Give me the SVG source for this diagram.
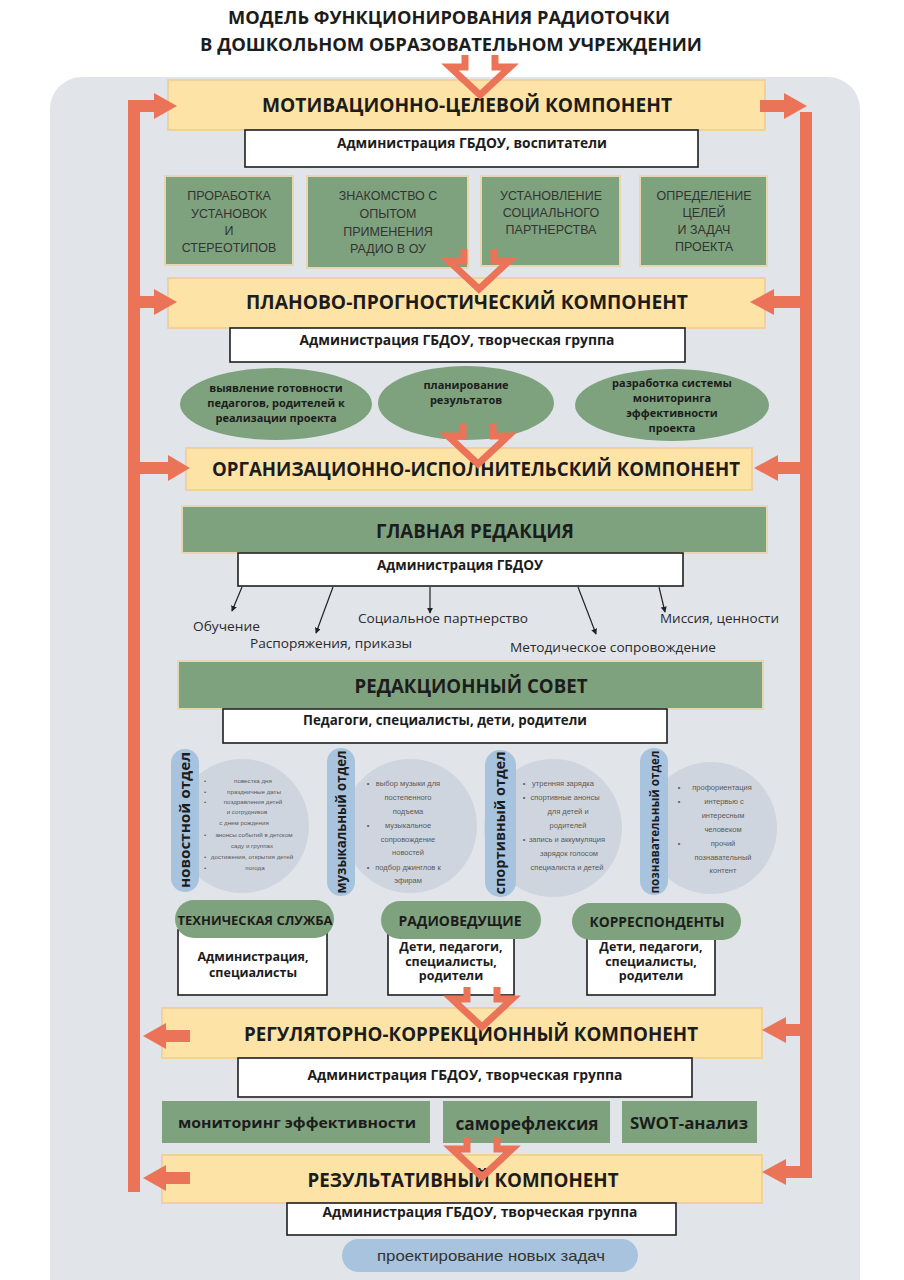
<svg xmlns="http://www.w3.org/2000/svg" width="904" height="1280" viewBox="0 0 904 1280">
<style>
.hd{font-family:'Open Sans','Noto Sans',sans-serif;font-weight:700;fill:#1c1c1c;text-anchor:middle}
.rg{font-family:'Open Sans','Noto Sans',sans-serif;font-weight:400;fill:#2a2a2a}
.ar{font-family:'Liberation Sans',Arial,sans-serif;fill:#333;text-anchor:middle}
.bl{font-family:'Liberation Sans',Arial,sans-serif;fill:#5a5a5a;text-anchor:middle}
.yel{fill:#fde3a6;stroke:#f1d09b;stroke-width:2}
.wht{fill:#fff;stroke:#1e1e1e;stroke-width:1.6}
.grn{fill:#7fa27e;stroke:#e6d6b2;stroke-width:2}
.grnp{fill:#7fa27e}
.pill{fill:#a8c3de}
.circ{fill:#cfd5de}
.or{fill:#eb7358}
.merge{fill:none;stroke:#eb7358;stroke-width:7;stroke-linejoin:miter}
.thin{stroke:#222;stroke-width:1.2;fill:none;marker-end:url(#ah)}
</style>
<defs>
<marker id="ah" viewBox="0 0 8 8" refX="7" refY="4" markerWidth="5" markerHeight="5" orient="auto">
<path d="M0,0 L8,4 L0,8 Z" fill="#222"/>
</marker>
<path id="mg" d="M-15,0 V12 H-30 L0,40 L30,12 H15 V0"/>
</defs>

<rect x="0" y="0" width="904" height="1280" fill="#ffffff"/>
<rect x="50" y="77" width="810" height="1240" rx="32" fill="#e1e5ea"/>

<g id="title">
<text class="hd" x="449" y="24" font-size="18" textLength="442" lengthAdjust="spacingAndGlyphs">МОДЕЛЬ ФУНКЦИОНИРОВАНИЯ РАДИОТОЧКИ</text>
<text class="hd" x="451" y="51" font-size="18" textLength="502" lengthAdjust="spacingAndGlyphs">В ДОШКОЛЬНОМ ОБРАЗОВАТЕЛЬНОМ УЧРЕЖДЕНИИ</text>
</g>

<g id="motivational">
<rect class="yel" x="168" y="80" width="597" height="50"/>
<text class="hd" x="467" y="112" font-size="19" textLength="410" lengthAdjust="spacingAndGlyphs">МОТИВАЦИОННО-ЦЕЛЕВОЙ КОМПОНЕНТ</text>
<rect class="wht" x="245" y="130" width="453" height="37"/>
<text class="hd" x="472" y="148" font-size="13.5" textLength="270" lengthAdjust="spacingAndGlyphs">Администрация ГБДОУ, воспитатели</text>
</g>

<g id="m1">
<rect class="grn" x="165" y="176" width="128" height="89"/>
<text class="ar" font-size="12.5"><tspan x="229" y="200">ПРОРАБОТКА</tspan><tspan x="229" y="218">УСТАНОВОК</tspan><tspan x="229" y="235">И</tspan><tspan x="229" y="252">СТЕРЕОТИПОВ</tspan></text>
</g>
<g id="m2">
<rect class="grn" x="307" y="176" width="161" height="92"/>
<text class="ar" font-size="12.5"><tspan x="388" y="200">ЗНАКОМСТВО С</tspan><tspan x="388" y="218">ОПЫТОМ</tspan><tspan x="388" y="236">ПРИМЕНЕНИЯ</tspan><tspan x="388" y="253">РАДИО В ОУ</tspan></text>
</g>
<g id="m3">
<rect class="grn" x="481" y="176" width="139" height="90"/>
<text class="ar" font-size="12.5"><tspan x="551" y="200">УСТАНОВЛЕНИЕ</tspan><tspan x="551" y="217">СОЦИАЛЬНОГО</tspan><tspan x="551" y="234">ПАРТНЕРСТВА</tspan></text>
</g>
<g id="m4">
<rect class="grn" x="640" y="176" width="127" height="90"/>
<text class="ar" font-size="12.5"><tspan x="704" y="200">ОПРЕДЕЛЕНИЕ</tspan><tspan x="704" y="217">ЦЕЛЕЙ</tspan><tspan x="704" y="234">И ЗАДАЧ</tspan><tspan x="704" y="251">ПРОЕКТА</tspan></text>
</g>

<g id="planning">
<rect class="yel" x="168" y="278" width="597" height="50"/>
<text class="hd" x="467" y="309" font-size="19" textLength="442" lengthAdjust="spacingAndGlyphs">ПЛАНОВО-ПРОГНОСТИЧЕСКИЙ КОМПОНЕНТ</text>
<rect class="wht" x="230" y="328" width="455" height="34"/>
<text class="hd" x="457" y="345" font-size="13.5" textLength="315" lengthAdjust="spacingAndGlyphs">Администрация ГБДОУ, творческая группа</text>
</g>

<g id="p1">
<ellipse class="grnp" cx="276" cy="404" rx="96" ry="36"/>
<text class="hd" font-size="11"><tspan x="276" y="392">выявление готовности</tspan><tspan x="276" y="407">педагогов, родителей к</tspan><tspan x="276" y="422">реализации проекта</tspan></text>
</g>
<g id="p2">
<ellipse class="grnp" cx="466" cy="403" rx="88" ry="37"/>
<text class="hd" font-size="11"><tspan x="466" y="389">планирование</tspan><tspan x="466" y="404">результатов</tspan></text>
</g>
<g id="p3">
<ellipse class="grnp" cx="672" cy="405" rx="97" ry="36"/>
<text class="hd" font-size="11"><tspan x="672" y="387">разработка системы</tspan><tspan x="672" y="402">мониторинга</tspan><tspan x="672" y="417">эффективности</tspan><tspan x="672" y="432">проекта</tspan></text>
</g>

<g id="organizational">
<rect class="yel" x="186" y="448" width="566" height="42"/>
<text class="hd" x="476" y="476" font-size="19" textLength="528" lengthAdjust="spacingAndGlyphs">ОРГАНИЗАЦИОННО-ИСПОЛНИТЕЛЬСКИЙ КОМПОНЕНТ</text>
</g>

<g id="main-editorial">
<rect class="grn" x="182" y="506" width="585" height="47"/>
<text class="hd" x="475" y="538" font-size="19" textLength="198" lengthAdjust="spacingAndGlyphs">ГЛАВНАЯ РЕДАКЦИЯ</text>
<rect class="wht" x="238" y="553" width="445" height="33"/>
<text class="hd" x="460" y="570" font-size="13.5" textLength="166" lengthAdjust="spacingAndGlyphs">Администрация ГБДОУ</text>
</g>

<g id="labels">
<text class="rg" x="193" y="631" font-size="13.5" textLength="67" lengthAdjust="spacingAndGlyphs">Обучение</text>
<text class="rg" x="250" y="648" font-size="13.5" textLength="162" lengthAdjust="spacingAndGlyphs">Распоряжения, приказы</text>
<text class="rg" x="358" y="623" font-size="13.5" textLength="170" lengthAdjust="spacingAndGlyphs">Социальное партнерство</text>
<text class="rg" x="510" y="652" font-size="13.5" textLength="206" lengthAdjust="spacingAndGlyphs">Методическое сопровождение</text>
<text class="rg" x="660" y="623" font-size="13.5" textLength="119" lengthAdjust="spacingAndGlyphs">Миссия, ценности</text>
</g>

<g id="editorial-board">
<rect class="grn" x="178" y="661" width="585" height="48"/>
<text class="hd" x="471" y="693" font-size="19" textLength="233" lengthAdjust="spacingAndGlyphs">РЕДАКЦИОННЫЙ СОВЕТ</text>
<rect class="wht" x="223" y="709" width="444" height="34"/>
<text class="hd" x="445" y="725" font-size="13.5" textLength="284" lengthAdjust="spacingAndGlyphs">Педагоги, специалисты, дети, родители</text>
</g>

<g id="news">
<circle class="circ" cx="242" cy="826" r="67"/>
<rect class="pill" x="171" y="749" width="28" height="143" rx="14"/>
<text class="hd" transform="translate(190,820) rotate(-90)" font-size="13.5" textLength="136" lengthAdjust="spacingAndGlyphs">новостной отдел</text>
<g class="bl" font-size="6.2">
<text x="253" y="783">повестка дня</text>
<text x="254" y="794">праздничные даты</text>
<text x="253" y="804">поздравления детей</text>
<text x="247" y="814">и сотрудников</text>
<text x="244" y="825">с днем рождения</text>
<text x="254" y="837">анонсы событий в детском</text>
<text x="252" y="848">саду и группах</text>
<text x="252" y="859">достижения, открытия детей</text>
<text x="255" y="870">погода</text>
<text x="205" y="783">•</text><text x="205" y="794">•</text><text x="205" y="804">•</text><text x="205" y="837">•</text><text x="205" y="859">•</text><text x="205" y="870">•</text>
</g>
</g>

<g id="music">
<circle class="circ" cx="410" cy="826" r="67"/>
<rect class="pill" x="327" y="748" width="28" height="148" rx="14"/>
<text class="hd" transform="translate(346,822) rotate(-90)" font-size="13.5" textLength="143" lengthAdjust="spacingAndGlyphs">музыкальный отдел</text>
<g class="bl" font-size="7.5">
<text x="408" y="786">выбор музыки для</text>
<text x="408" y="800">постепенного</text>
<text x="408" y="814">подъема</text>
<text x="408" y="828">музыкальное</text>
<text x="408" y="842">сопровождение</text>
<text x="408" y="855">новостей</text>
<text x="408" y="870">подбор джинглов к</text>
<text x="408" y="883">эфирам</text>
<text x="368" y="786">•</text><text x="368" y="828">•</text><text x="368" y="870">•</text>
</g>
</g>

<g id="sport">
<circle class="circ" cx="553" cy="828" r="69"/>
<rect class="pill" x="485" y="750" width="31" height="147" rx="15"/>
<text class="hd" transform="translate(505,823) rotate(-90)" font-size="13.5" textLength="143" lengthAdjust="spacingAndGlyphs">спортивный отдел</text>
<g class="bl" font-size="7.5">
<text x="563" y="786">утренняя зарядка</text>
<text x="565" y="800">спортивные анонсы</text>
<text x="568" y="814">для детей и</text>
<text x="568" y="828">родителей</text>
<text x="567" y="842">запись и аккумуляция</text>
<text x="569" y="856">зарядок голосом</text>
<text x="567" y="870">специалиста и детей</text>
<text x="524" y="786">•</text><text x="524" y="800">•</text><text x="524" y="842">•</text>
</g>
</g>

<g id="cognitive">
<circle class="circ" cx="711" cy="828" r="66"/>
<rect class="pill" x="640" y="748" width="28" height="147" rx="14"/>
<text class="hd" transform="translate(659,822) rotate(-90)" font-size="13" textLength="143" lengthAdjust="spacingAndGlyphs">познавательный отдел</text>
<g class="bl" font-size="7.5">
<text x="722" y="790">профориентация</text>
<text x="724" y="804">интервью с</text>
<text x="723" y="818">интересным</text>
<text x="723" y="832">человеком</text>
<text x="723" y="846">прочий</text>
<text x="723" y="860">познавательный</text>
<text x="723" y="873">контент</text>
<text x="679" y="790">•</text><text x="679" y="804">•</text><text x="679" y="846">•</text>
</g>
</g>

<g id="tech">
<rect class="wht" x="178" y="930" width="149" height="65"/>
<rect class="grnp" x="175" y="900" width="159" height="38" rx="19"/>
<text class="hd" x="255" y="925" font-size="13" textLength="155" lengthAdjust="spacingAndGlyphs">ТЕХНИЧЕСКАЯ СЛУЖБА</text>
<text class="hd" font-size="12.5"><tspan x="253" y="961">Администрация,</tspan><tspan x="253" y="977">специалисты</tspan></text>
</g>
<g id="hosts">
<rect class="wht" x="388" y="930" width="126" height="65"/>
<rect class="grnp" x="381" y="901" width="160" height="38" rx="19"/>
<text class="hd" x="460" y="926" font-size="15" textLength="123" lengthAdjust="spacingAndGlyphs">РАДИОВЕДУЩИЕ</text>
<text class="hd" font-size="12.5"><tspan x="451" y="951">Дети, педагоги,</tspan><tspan x="451" y="965.5">специалисты,</tspan><tspan x="451" y="980">родители</tspan></text>
</g>
<g id="correspondents">
<rect class="wht" x="587" y="930" width="128" height="65"/>
<rect class="grnp" x="572" y="903" width="169" height="37" rx="18.5"/>
<text class="hd" x="657" y="927" font-size="14" textLength="135" lengthAdjust="spacingAndGlyphs">КОРРЕСПОНДЕНТЫ</text>
<text class="hd" font-size="12.5"><tspan x="651" y="951">Дети, педагоги,</tspan><tspan x="651" y="965.5">специалисты,</tspan><tspan x="651" y="980">родители</tspan></text>
</g>

<g id="regulatory">
<rect class="yel" x="162" y="1008" width="600" height="50"/>
<text class="hd" x="471" y="1041" font-size="19" textLength="454" lengthAdjust="spacingAndGlyphs">РЕГУЛЯТОРНО-КОРРЕКЦИОННЫЙ КОМПОНЕНТ</text>
<rect class="wht" x="238" y="1058" width="454" height="39"/>
<text class="hd" x="465" y="1080" font-size="13.5" textLength="315" lengthAdjust="spacingAndGlyphs">Администрация ГБДОУ, творческая группа</text>
</g>

<g id="r1">
<rect class="grnp" x="162" y="1101" width="268" height="42"/>
<text class="hd" x="297" y="1128" font-size="15" textLength="238" lengthAdjust="spacingAndGlyphs">мониторинг эффективности</text>
</g>
<g id="r2">
<rect class="grnp" x="443" y="1101" width="167" height="42"/>
<text class="hd" x="527" y="1130" font-size="17" textLength="143" lengthAdjust="spacingAndGlyphs">саморефлексия</text>
</g>
<g id="r3">
<rect class="grnp" x="622" y="1101" width="135" height="42"/>
<text class="hd" x="689" y="1129" font-size="16" textLength="118" lengthAdjust="spacingAndGlyphs">SWOT-анализ</text>
</g>

<g id="result">
<rect class="yel" x="162" y="1155" width="600" height="48"/>
<text class="hd" x="463" y="1187" font-size="19" textLength="311" lengthAdjust="spacingAndGlyphs">РЕЗУЛЬТАТИВНЫЙ КОМПОНЕНТ</text>
<rect class="wht" x="287" y="1203" width="389" height="32"/>
<text class="hd" x="480" y="1217" font-size="13.5" textLength="315" lengthAdjust="spacingAndGlyphs">Администрация ГБДОУ, творческая группа</text>
</g>

<g id="new-tasks">
<rect class="pill" x="342" y="1239" width="296" height="33" rx="16.5"/>
<text class="ar" x="491" y="1261" font-size="15" fill="#333" textLength="228" lengthAdjust="spacingAndGlyphs">проектирование новых задач</text>
</g>

<g id="connectors">
<line class="thin" x1="242" y1="587" x2="232" y2="611"/>
<line class="thin" x1="333" y1="587" x2="316" y2="633"/>
<line class="thin" x1="430" y1="587" x2="430" y2="613"/>
<line class="thin" x1="578" y1="587" x2="596" y2="634"/>
<line class="thin" x1="659" y1="587" x2="665" y2="612"/>

<use href="#mg" class="merge" x="480" y="55"/>
<use href="#mg" class="merge" x="479" y="249"/>
<use href="#mg" class="merge" x="478" y="424"/>
<use href="#mg" class="merge" x="482" y="987"/>
<use href="#mg" class="merge" x="482" y="1137"/>

<path class="or" d="M128,1192 V100 H156 V112 H140 V1192 Z"/>
<polygon class="or" points="154,93 177,106 154,119"/>
<rect class="or" x="139" y="296" width="17" height="12"/>
<polygon class="or" points="154,289 177,302 154,315"/>
<rect class="or" x="139" y="462" width="31" height="12"/>
<polygon class="or" points="168,455 190,468 168,481"/>
<rect class="or" x="164" y="1030" width="26" height="12"/>
<polygon class="or" points="166,1023 143,1036 166,1049"/>
<rect class="or" x="164" y="1172" width="26" height="12"/>
<polygon class="or" points="166,1165 143,1178 166,1191"/>

<rect class="or" x="760" y="100" width="28" height="12"/>
<polygon class="or" points="784,93 807,106 784,119"/>
<path class="or" d="M800,112 H812 V1178 H784 V1166 H800 Z"/>
<polygon class="or" points="786,1159 762,1172 786,1185"/>
<rect class="or" x="772" y="296" width="29" height="12"/>
<polygon class="or" points="774,289 750,302 774,315"/>
<rect class="or" x="776" y="462" width="25" height="12"/>
<polygon class="or" points="778,455 754,468 778,481"/>
<rect class="or" x="784" y="1024" width="17" height="12"/>
<polygon class="or" points="786,1017 762,1030 786,1043"/>
</g>
</svg>
